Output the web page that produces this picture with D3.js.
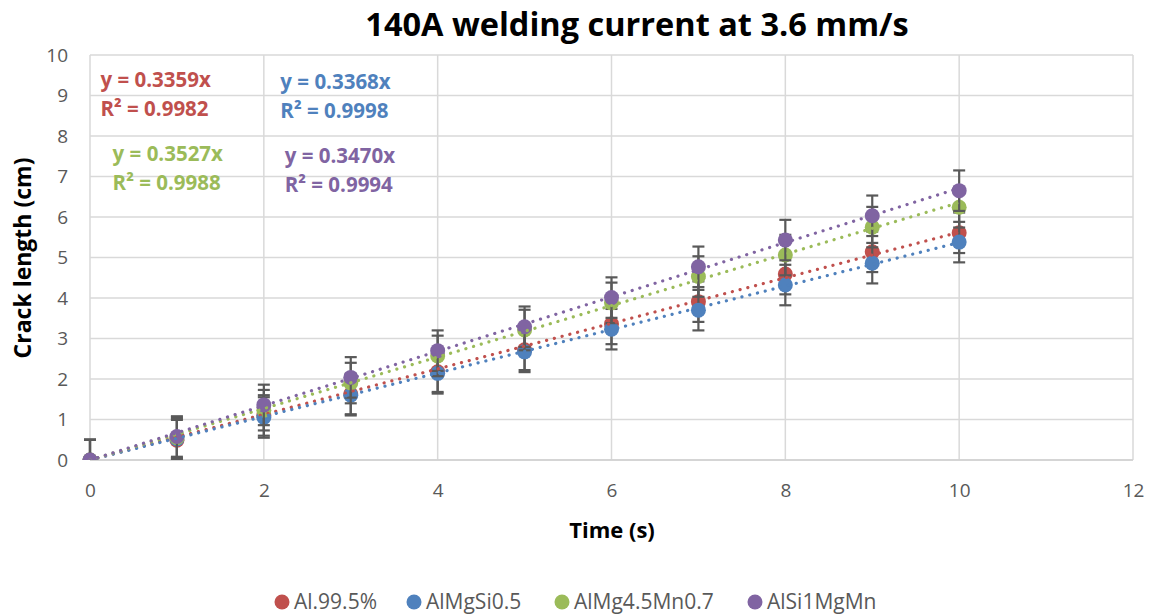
<!DOCTYPE html>
<html>
<head>
<meta charset="utf-8">
<script src="https://cdn.jsdelivr.net/npm/d3@7"></script>
<style>
  body { margin: 0; background: #fff; }
  svg { font-family: "Open Sans", sans-serif; }
</style>
</head>
<body>
<div id="chart"></div>
<script>
// Data
const times = [0, 1, 2, 3, 4, 5, 6, 7, 8, 9, 10];
const seriesNames = ["Al.99.5%", "AlMgSi0.5", "AlMg4.5Mn0.7", "AlSi1MgMn"];
const al995 = [0, 0.49, 1.10, 1.63, 2.18, 2.72, 3.36, 3.91, 4.59, 5.14, 5.61];
const almgsi = [0, 0.52, 1.05, 1.60, 2.14, 2.67, 3.23, 3.70, 4.32, 4.86, 5.38];
const almgmn = [0, 0.55, 1.23, 1.90, 2.57, 3.21, 3.88, 4.53, 5.06, 5.75, 6.24];
const alsimg = [0, 0.58, 1.36, 2.04, 2.70, 3.29, 4.01, 4.77, 5.43, 6.03, 6.65];
const errorSize = 0.5;
const eqLabels = ["y = 0.3359x", "y = 0.3368x", "y = 0.3527x", "y = 0.3470x"];
const r2Labels = ["R² = 0.9982", "R² = 0.9998", "R² = 0.9988", "R² = 0.9994"];
const xTicks = [0, 2, 4, 6, 8, 10, 12];
const yTicks = [0, 1, 2, 3, 4, 5, 6, 7, 8, 9, 10];

const colors = ["#C0504D", "#4F81BD", "#9BBB59", "#8064A2"];
const allSeries = [al995, almgsi, almgmn, alsimg];
// label anchor points (data units) for the trendline equations
const labelAt = [[0.12, 9.21], [2.19, 9.16], [0.26, 7.38], [2.24, 7.33]];

const width = 1156, height = 616;
const margin = { top: 55, right: 23, bottom: 156, left: 90 };

const svg = d3.select("#chart")
    .append("svg")
    .attr("width", width)
    .attr("height", height);

svg.append("rect").attr("width", width).attr("height", height).attr("fill", "#fff");

const x = d3.scaleLinear().domain([0, 12]).range([margin.left, width - margin.right]);
const y = d3.scaleLinear().domain([0, 10]).range([height - margin.bottom, margin.top]);

// gridlines
svg.append("g")
    .selectAll("line.h")
    .data(yTicks)
    .enter()
    .append("line")
    .attr("x1", x(0)).attr("x2", x(12))
    .attr("y1", d => y(d)).attr("y2", d => y(d))
    .attr("stroke", "#D9D9D9").attr("stroke-width", 1.5);

svg.append("g")
    .selectAll("line.v")
    .data(xTicks)
    .enter()
    .append("line")
    .attr("x1", d => x(d)).attr("x2", d => x(d))
    .attr("y1", y(0)).attr("y2", y(10))
    .attr("stroke", "#D9D9D9").attr("stroke-width", 1.5);

// axes (labels only, Excel style)
const xAxis = svg.append("g")
    .attr("transform", `translate(0, ${y(0)})`)
    .call(d3.axisBottom(x).tickValues(xTicks).tickSize(0).tickPadding(24));
const yAxis = svg.append("g")
    .attr("transform", `translate(${x(0)}, 0)`)
    .call(d3.axisLeft(y).tickValues(yTicks).tickSize(0).tickPadding(22));
[xAxis, yAxis].forEach(a => {
    a.select(".domain").remove();
    a.selectAll("text")
        .attr("fill", "#595959")
        .style("font-size", "19px")
        .style("font-family", "'Open Sans', sans-serif");
});
svg.append("line")
    .attr("x1", x(0)).attr("x2", x(12))
    .attr("y1", y(0)).attr("y2", y(0))
    .attr("stroke", "#D0D0D0").attr("stroke-width", 1.5);

svg.append("clipPath").attr("id", "plotclip")
    .append("rect")
    .attr("x", x(0) - 10).attr("y", y(10))
    .attr("width", x(12) - x(0) + 10).attr("height", y(0) - y(10));

// error bars and markers, series by series
const plot = svg.append("g").attr("clip-path", "url(#plotclip)");
allSeries.forEach((vals, i) => {
    const g = plot.append("g");
    const pts = times.map((t, k) => ({ t: t, v: vals[k] }));
    const eb = g.selectAll(".eb").data(pts).enter().append("g");
    eb.append("line")
        .attr("x1", d => x(d.t)).attr("x2", d => x(d.t))
        .attr("y1", d => y(d.v - errorSize)).attr("y2", d => y(d.v + errorSize))
        .attr("stroke", "#595959").attr("stroke-width", 2.2);
    [-errorSize, errorSize].forEach(off => {
        eb.append("line")
            .attr("x1", d => x(d.t) - 6).attr("x2", d => x(d.t) + 6)
            .attr("y1", d => y(d.v + off)).attr("y2", d => y(d.v + off))
            .attr("stroke", "#595959").attr("stroke-width", 2.2);
    });
    g.selectAll("circle").data(pts).enter().append("circle")
        .attr("cx", d => x(d.t))
        .attr("cy", d => y(d.v))
        .attr("r", 7.5)
        .attr("fill", colors[i]);
});

// linear trendlines through origin (least squares)
allSeries.forEach((vals, i) => {
    const sxy = d3.sum(times, (t, k) => t * vals[k]);
    const sxx = d3.sum(times, t => t * t);
    const slope = sxy / sxx;
    plot.append("line")
        .attr("x1", x(0)).attr("y1", y(0))
        .attr("x2", x(10)).attr("y2", y(slope * 10))
        .attr("stroke", colors[i])
        .attr("stroke-width", 3.2)
        .attr("stroke-linecap", "round")
        .attr("stroke-dasharray", "0.1 7.9");
});

// trendline equations
labelAt.forEach((p, i) => {
    const t = svg.append("text")
        .attr("x", x(p[0])).attr("y", y(p[1]))
        .attr("fill", colors[i])
        .style("font-size", "20.5px")
        .style("font-weight", "bold");
    t.append("tspan").attr("x", x(p[0])).text(eqLabels[i]);
    t.append("tspan").attr("x", x(p[0])).attr("dy", 29).text(r2Labels[i]);
});

// title and axis titles
svg.append("text")
    .attr("x", 637).attr("y", 36)
    .attr("text-anchor", "middle")
    .attr("fill", "#000")
    .style("font-size", "32.5px").style("font-weight", "bold")
    .text("140A welding current at 3.6 mm/s");

svg.append("text")
    .attr("transform", "translate(31, 258) rotate(-90)")
    .attr("text-anchor", "middle")
    .style("font-size", "23px").style("font-weight", "bold")
    .text("Crack length (cm)");

svg.append("text")
    .attr("x", 612).attr("y", 538)
    .attr("text-anchor", "middle")
    .style("font-size", "22px").style("font-weight", "bold")
    .text("Time (s)");

// legend
const legendX = [282, 414, 562, 755];
const legend = svg.append("g");
seriesNames.forEach((name, i) => {
    legend.append("circle")
        .attr("cx", legendX[i]).attr("cy", 602).attr("r", 7.5)
        .attr("fill", colors[i]);
    legend.append("text")
        .attr("x", legendX[i] + 12).attr("y", 609)
        .attr("fill", "#595959")
        .style("font-size", "21px")
        .text(name);
});
</script>
</body>
</html>
